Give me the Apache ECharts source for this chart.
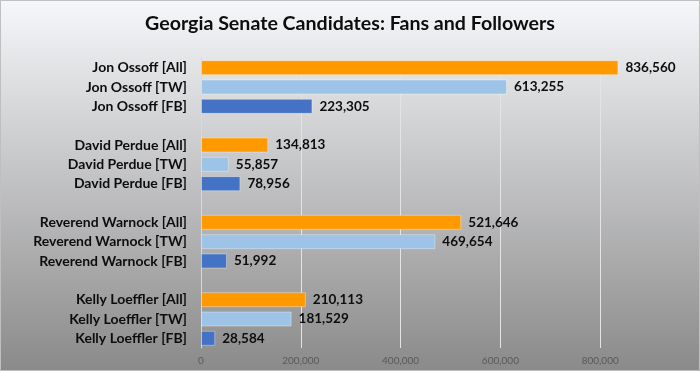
<!DOCTYPE html>
<html><head><meta charset="utf-8">
<script src="https://cdn.jsdelivr.net/npm/echarts@6/dist/echarts.min.js"></script>
<style>html,body{margin:0;padding:0;}#c{width:700px;height:371px;}</style>
</head><body><div id="c"></div>
<script>
const candidates = ["Jon Ossoff", "David Perdue", "Reverend Warnock", "Kelly Loeffler"];
const kinds = ["All", "TW", "FB"];
const allValues = [836560, 134813, 521646, 210113];
const twValues = [613255, 55857, 469654, 181529];
const fbValues = [223305, 78956, 51992, 28584];
const xTicks = [0, 200000, 400000, 600000, 800000];

const colors = { All: "#FF9900", TW: "#9DC3E6", FB: "#4472C4" };
const valuesByKind = { All: allValues, TW: twValues, FB: fbValues };

const categories = [];
const data = [];
candidates.forEach((c, i) => {
  if (i > 0) { categories.push(" ".repeat(i)); data.push("-"); }
  kinds.forEach(k => {
    categories.push(c + " [" + k + "]");
    data.push({ value: valuesByKind[k][i], itemStyle: { color: colors[k] } });
  });
});

const chart = echarts.init(document.getElementById("c"), null, { renderer: "canvas" });
chart.setOption({
  animation: false,
  backgroundColor: {
    type: "linear", x: 0, y: 0, x2: 0, y2: 1,
    colorStops: [{ offset: 0, color: "#f6f7fa" }, { offset: 1, color: "#8a8a8a" }]
  },
  title: {
    text: "Georgia Senate Candidates: Fans and Followers",
    left: "center", top: 9,
    textStyle: { fontFamily: "Lato", fontWeight: "bold", fontSize: 19.6, color: "#0d0d0d" }
  },
  grid: { left: 201, right: -3, top: 58, bottom: 23, containLabel: false },
  xAxis: {
    type: "value", min: 0, max: 1000000, interval: 200000,
    axisLine: { show: false }, axisTick: { show: false },
    splitLine: { show: true, lineStyle: { color: "#e4e4e4", width: 1 } },
    axisLabel: {
      showMaxLabel: false, color: "#595959", fontFamily: "Lato", fontSize: 10, margin: 8,
      formatter: v => xTicks.includes(v) ? v.toLocaleString("en-US") : ""
    }
  },
  yAxis: {
    type: "category", data: categories, inverse: true,
    axisLine: { show: true, lineStyle: { color: "#d9d9d9", width: 1 } },
    axisTick: { show: false },
    axisLabel: { color: "#0d0d0d", fontFamily: "Lato", fontWeight: "bold", fontSize: 14, margin: 14 }
  },
  series: [{
    type: "bar", data: data, barWidth: 15,
    itemStyle: { borderColor: "rgba(255,255,255,0.35)", borderWidth: 1 },
    label: {
      show: true, position: "right", distance: 7,
      color: "#0d0d0d", fontFamily: "Lato", fontWeight: "bold", fontSize: 13.5,
      formatter: p => p.value.toLocaleString("en-US")
    }
  }],
  graphic: [{
    type: "rect", shape: { x: 0.5, y: 0.5, width: 699, height: 370 },
    style: { fill: "none", stroke: "#bfbfbf", lineWidth: 1 }, z: 100
  }]
});
</script></body></html>
